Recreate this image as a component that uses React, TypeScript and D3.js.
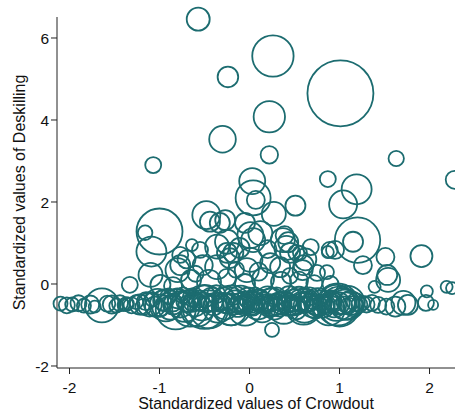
import React from 'react';
import * as d3 from 'd3';

// Each point: [crowdout (std), deskilling (std), weight]
const outliers: [number, number, number][] = [
  [-0.57, 6.46, 132], [0.26, 5.56, 428], [-0.24, 5.05, 106], [1.01, 4.65, 1089],
  [0.22, 4.08, 246], [-0.30, 3.53, 177], [-1.07, 2.90, 64], [0.22, 3.15, 76],
  [1.63, 3.06, 59], [0.87, 2.56, 64], [2.28, 2.54, 81], [0.03, 2.51, 169],
  [0.04, 2.10, 306], [0.07, 2.05, 81], [1.19, 2.31, 225], [1.04, 1.94, 196],
  [0.51, 1.91, 100], [0.27, 1.71, 144], [-0.48, 1.68, 196], [-0.44, 1.52, 100],
  [-0.33, 1.49, 100], [-1.00, 1.28, 529], [-1.16, 1.25, 53], [-1.09, 0.79, 225],
  [-0.77, 0.71, 64], [-0.64, 0.95, 36], [-0.55, 0.83, 64], [-0.36, 0.91, 144],
  [-0.25, 0.76, 100], [-0.27, 1.56, 100], [-0.05, 1.49, 100], [0.01, 1.19, 169],
  [0.39, 1.19, 81], [0.43, 1.02, 100], [0.87, 0.78, 36], [0.56, 0.76, 49],
  [1.20, 1.07, 515], [1.15, 1.03, 100], [0.95, 0.83, 81], [1.51, 0.66, 81],
  [1.91, 0.68, 121], [1.26, 0.46, 81], [1.54, 0.10, 144], [1.39, -0.07, 36],
  [2.19, -0.07, 36], [2.25, -0.10, 36], [1.97, -0.18, 36], [2.04, -0.51, 25],
  [1.96, -0.46, 64], [1.76, -0.51, 100], [1.71, -0.46, 144], [1.62, -0.55, 100],
  [1.52, -0.55, 64], [1.36, -0.46, 64], [1.43, -0.51, 64], [1.09, -0.46, 289],
  [0.25, -1.12, 49],
];

const midCluster: [number, number, number][] = [
  [-1.33, -0.02, 64], [-1.10, 0.22, 144], [-0.99, -0.02, 100], [-0.80, 0.34, 144],
  [-0.77, 0.46, 100], [-0.52, 0.46, 100], [-0.36, 0.41, 144], [-0.18, 0.76, 100],
  [-0.03, 0.34, 144], [0.23, 0.51, 100], [0.59, 0.34, 100], [0.75, 0.27, 64],
  [0.86, 0.29, 49], [0.89, 0.83, 64], [1.53, 0.22, 100], [0.34, 0.41, 100],
  [0.60, 0.46, 100], [0.52, 0.76, 64], [0.41, 0.88, 144], [0.01, 0.59, 144],
  [-0.22, 0.63, 100], [-0.11, 0.88, 100], [0.04, 1.07, 144], [-0.25, 1.03, 144],
  [0.12, 1.24, 144], [0.37, 1.07, 144], [0.45, 0.76, 100], [-0.65, 0.10, 100],
  [-0.45, 0.05, 144], [-0.25, 0.15, 81], [-0.05, 0.00, 100], [0.15, 0.12, 121],
  [0.35, 0.05, 100], [0.55, 0.08, 81], [0.72, 0.02, 64], [-0.85, -0.05, 81],
  [0.90, 0.00, 64], [0.62, 0.60, 121], [-0.60, 0.25, 64], [-0.15, 0.35, 64],
  [0.10, 0.30, 81], [0.45, 0.20, 64], [-0.70, 0.60, 81], [0.20, 0.85, 81],
  [0.68, 0.90, 64],
];

const leftTail: [number, number, number][] = [
  [-2.10, -0.48, 49], [-2.03, -0.52, 64], [-1.97, -0.50, 49], [-1.90, -0.47, 64],
  [-1.84, -0.53, 49], [-1.77, -0.50, 81], [-1.72, -0.55, 36], [-1.64, -0.52, 289],
  [-1.58, -0.48, 64], [-1.53, -0.50, 81], [-1.48, -0.53, 49], [-1.44, -0.47, 64],
  [-1.40, -0.51, 36], [-1.37, -0.49, 49],
];

const band: [number, number, number][] = [
  [-1.35, -0.48, 36], [-1.31, -0.52, 64], [-1.26, -0.44, 49], [-1.22, -0.50, 100],
  [-1.18, -0.56, 64], [-1.15, -0.42, 81], [-1.11, -0.50, 144], [-1.08, -0.38, 49],
  [-1.05, -0.55, 100], [-1.02, -0.46, 196], [-0.99, -0.60, 64], [-0.96, -0.40, 100],
  [-0.93, -0.52, 256], [-0.90, -0.30, 64], [-0.88, -0.58, 144], [-0.85, -0.45, 81],
  [-0.82, -0.62, 400], [-0.80, -0.35, 100], [-0.77, -0.50, 169], [-0.74, -0.28, 64],
  [-0.72, -0.56, 225], [-0.69, -0.42, 121], [-0.66, -0.60, 324], [-0.64, -0.33, 81],
  [-0.61, -0.50, 144], [-0.58, -0.65, 256], [-0.56, -0.40, 100], [-0.53, -0.55, 196],
  [-0.50, -0.30, 121], [-0.48, -0.48, 81], [-0.45, -0.62, 361], [-0.42, -0.38, 144],
  [-0.40, -0.52, 100], [-0.37, -0.25, 81], [-0.35, -0.58, 225], [-0.32, -0.44, 64],
  [-0.29, -0.35, 121], [-0.27, -0.55, 169], [-0.24, -0.48, 100], [-0.21, -0.62, 256],
  [-0.19, -0.30, 81], [-0.16, -0.45, 144], [-0.13, -0.56, 100], [-0.10, -0.38, 196],
  [-0.08, -0.50, 64], [-0.05, -0.60, 289], [-0.02, -0.33, 100], [0.01, -0.46, 144],
  [0.04, -0.55, 81], [0.06, -0.28, 64], [0.09, -0.50, 225], [0.12, -0.40, 100],
  [0.14, -0.62, 169], [0.17, -0.48, 81], [0.20, -0.35, 144], [0.22, -0.56, 100],
  [0.25, -0.44, 196], [0.28, -0.60, 121], [0.30, -0.30, 81], [0.33, -0.50, 144],
  [0.36, -0.40, 64], [0.38, -0.58, 256], [0.41, -0.46, 100], [0.44, -0.32, 121],
  [0.47, -0.55, 81], [0.50, -0.45, 169], [0.52, -0.62, 100], [0.55, -0.36, 144],
  [0.58, -0.50, 64], [0.61, -0.58, 225], [0.64, -0.42, 100], [0.67, -0.30, 81],
  [0.70, -0.52, 144], [0.73, -0.60, 100], [0.76, -0.44, 196], [0.79, -0.35, 64],
  [0.82, -0.55, 121], [0.85, -0.48, 81], [0.88, -0.62, 256], [0.91, -0.40, 100],
  [0.94, -0.52, 144], [0.97, -0.46, 324], [1.00, -0.55, 400], [1.03, -0.42, 169],
  [1.06, -0.50, 225], [1.12, -0.46, 144], [1.15, -0.54, 100], [1.18, -0.44, 81],
  [1.22, -0.50, 64], [1.26, -0.46, 49], [1.30, -0.50, 64],
  [-0.50, -0.56, 484], [0.98, -0.50, 441], [-0.20, -0.52, 400], [0.60, -0.55, 324],
];

const bandCore: [number, number, number][] = [
  [-0.15, -0.50, 64], [-0.11, -0.44, 81], [-0.06, -0.52, 100], [-0.03, -0.41, 49],
  [0.02, -0.51, 64], [0.07, -0.43, 81], [0.11, -0.53, 49], [0.15, -0.45, 100],
  [0.19, -0.52, 64], [0.23, -0.47, 81], [0.27, -0.53, 100], [0.31, -0.44, 64],
  [0.35, -0.52, 81], [0.39, -0.47, 49], [0.43, -0.53, 100], [0.48, -0.48, 64],
  [0.53, -0.52, 81], [0.57, -0.44, 100], [0.62, -0.50, 64], [0.66, -0.47, 81],
  [0.71, -0.45, 49], [0.75, -0.52, 100], [0.80, -0.47, 64], [0.84, -0.53, 81],
  [0.89, -0.46, 100], [0.93, -0.50, 64], [0.99, -0.47, 121], [1.04, -0.52, 81],
  [1.08, -0.45, 100], [1.10, -0.53, 64], [-0.45, -0.47, 64], [-0.40, -0.45, 81],
  [-0.33, -0.51, 49], [-0.28, -0.46, 100], [-0.70, -0.48, 64], [-0.63, -0.46, 81],
  [-0.55, -0.49, 49], [-0.85, -0.50, 100], [-0.95, -0.47, 64],
];

const xTicks = [-2, -1, 0, 1, 2];
const yTicks = [-2, 0, 2, 4, 6];
const xTitle = 'Standardized values of Crowdout';
const yTitle = 'Standardized values of Deskilling';

const COLOR = '#1c6c70';
const FONT = 'Liberation Sans, Arial, sans-serif';

export default function App() {
  const W = 455, H = 414;
  const left = 57, right = 455, top = 17, bottom = 368;
  const x = d3.scaleLinear().domain([-2.139, 2.283]).range([left, right]);
  const y = d3.scaleLinear().domain([-2.049, 6.512]).range([bottom, top]);
  const r = d3.scaleSqrt().domain([0, 1089]).range([0, 33]);
  const points = [...leftTail, ...band, ...bandCore, ...midCluster, ...outliers];

  return (
    <svg width={W} height={H} style={{ position: 'absolute', left: 0, top: 0, background: '#fff' }}
      fontFamily={FONT}>
      <rect width={W} height={H} fill="#fff" />
      <line x1={left} x2={left} y1={top} y2={bottom} stroke="#222" strokeWidth={1} />
      <line x1={left} x2={right} y1={bottom} y2={bottom} stroke="#222" strokeWidth={1} />
      {yTicks.map((t) => (
        <g key={'y' + t}>
          <line x1={left - 6} x2={left} y1={y(t)} y2={y(t)} stroke="#222" strokeWidth={1} />
          <text x={left - 8} y={y(t)} dy="0.36em" textAnchor="end" fontSize={15.5} fill="#111">{t}</text>
        </g>
      ))}
      {xTicks.map((t) => (
        <g key={'x' + t}>
          <line x1={x(t)} x2={x(t)} y1={bottom} y2={bottom + 6} stroke="#222" strokeWidth={1} />
          <text x={x(t)} y={393} textAnchor="middle" fontSize={15.5} fill="#111">{t}</text>
        </g>
      ))}
      <text x={(left + right) / 2} y={409} textAnchor="middle" fontSize={16} fill="#111">{xTitle}</text>
      <text transform={`translate(25,${(top + bottom) / 2}) rotate(-90)`} textAnchor="middle" fontSize={16} fill="#111">{yTitle}</text>
      <g fill="none" stroke={COLOR} strokeWidth={1.8}>
        {points.map((p, i) => (
          <circle key={i} cx={x(p[0])} cy={y(p[1])} r={r(p[2])} />
        ))}
      </g>
    </svg>
  );
}
